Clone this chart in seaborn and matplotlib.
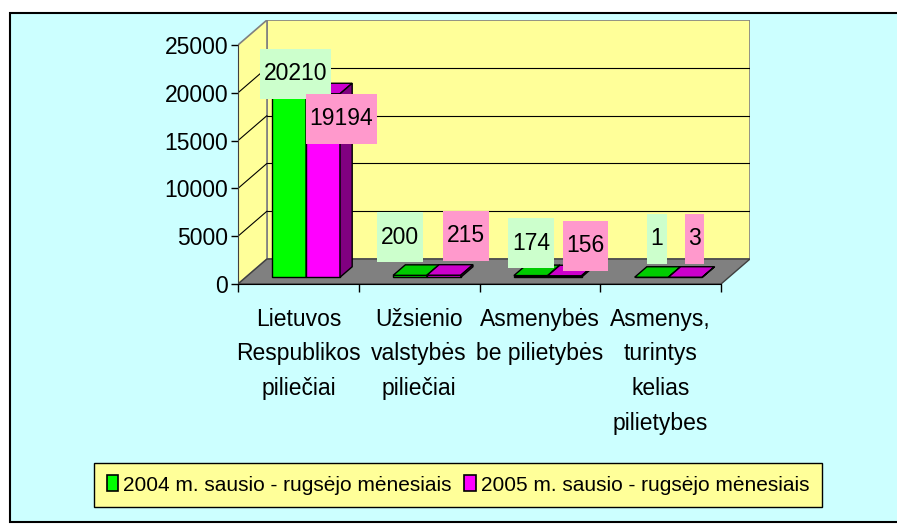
import numpy as np
import pandas as pd
import matplotlib
matplotlib.use("Agg")
import matplotlib.pyplot as plt
from matplotlib.patches import Polygon, Rectangle, Patch
from matplotlib.transforms import IdentityTransform
import seaborn as sns

# data
categories = ["Lietuvos\nRespublikos\npiliečiai",
              "Užsienio\nvalstybės\npiliečiai",
              "Asmenybės\nbe pilietybės",
              "Asmenys,\nturintys\nkelias\npilietybes"]
series = ["2004 m. sausio - rugsėjo mėnesiais",
          "2005 m. sausio - rugsėjo mėnesiais"]
values_2004 = [20210, 200, 174, 1]
values_2005 = [19194, 215, 156, 3]
y_ticks = [0, 5000, 10000, 15000, 20000, 25000]

# styling (Excel-like 3D look)
front_colors = ["#00FF00", "#FF00FF"]
top_colors = ["#00CC00", "#CC00CC"]
side_colors = ["#008000", "#800080"]
label_bg = ["#CCFFCC", "#FF99CC"]
# pixel nudges of the value labels (Excel pushes them apart)
label_shift = [[(0, 5), (-16, 33), (-6, 27), (-1, 33)],
               [(12, -30), (16, 34), (15, 25), (3, 33)]]

sns.set_style("white")
plt.rcParams["font.family"] = ["Liberation Sans", "DejaVu Sans"]
plt.rcParams["text.color"] = "black"
plt.rcParams["xtick.color"] = "black"
plt.rcParams["ytick.color"] = "black"
FS = 16.5

W, H, DPI = 897, 524, 100
fig = plt.figure(figsize=(W / DPI, H / DPI), dpi=DPI, facecolor="white")
fig.add_artist(Rectangle((10 / W, 2 / H), 1.0, 509 / H, transform=fig.transFigure,
                         facecolor="#CCFFFF", edgecolor="black", lw=1.5, zorder=-10))

ax = fig.add_axes([238 / W, (H - 284) / H, 512 / W, 264 / H])
ax.patch.set_visible(False)

# depth of the 3D box in data units
DX = 0.24
DY = 2615
F0, F1 = 0.27, 0.69   # front / back of the bars inside the depth
TOP = y_ticks[-1]
x0, x1 = -0.5, len(categories) - 0.5

# walls and floor
ax.add_patch(Polygon([(x0 + DX, DY), (x1 + DX, DY), (x1 + DX, TOP + DY), (x0 + DX, TOP + DY)],
                     closed=True, facecolor="#FFFF99", edgecolor="#808080", lw=1.2, zorder=0))
ax.add_patch(Polygon([(x0, 0), (x0 + DX, DY), (x0 + DX, TOP + DY), (x0, TOP)],
                     closed=True, facecolor="#FFFF99", edgecolor="#808080", lw=1.2, zorder=0))
ax.add_patch(Polygon([(x0, 0), (x1, 0), (x1 + DX, DY), (x0 + DX, DY)],
                     closed=True, facecolor="#808080", edgecolor="#404040", lw=1, zorder=1))
for t in y_ticks[1:-1]:
    ax.plot([x0 + DX, x1 + DX], [t + DY, t + DY], color="black", lw=0.8, zorder=1)
    ax.plot([x0, x0 + DX], [t, t + DY], color="black", lw=0.8, zorder=1)

# bars: front faces from seaborn, then shifted into the depth
df = pd.DataFrame({
    "category": categories * 2,
    "series": [series[0]] * len(categories) + [series[1]] * len(categories),
    "value": values_2004 + values_2005,
})
sns.barplot(data=df, x="category", y="value", hue="series", order=categories,
            hue_order=series, palette=front_colors, width=0.56, gap=0, saturation=1,
            edgecolor="black", linewidth=1, legend=False, ax=ax, zorder=3)

ddx, ddy = (F1 - F0) * DX, (F1 - F0) * DY
for i, cont in enumerate(ax.containers):
    for j, bar in enumerate(cont):
        bx, bw, v = bar.get_x() + F0 * DX, bar.get_width(), bar.get_height()
        base = F0 * DY
        bar.set_x(bx)
        bar.set_y(base)
        bar.set_zorder(3 + i)
        ax.add_patch(Polygon([(bx, base + v), (bx + bw, base + v), (bx + bw + ddx, base + v + ddy),
                              (bx + ddx, base + v + ddy)], closed=True, facecolor=top_colors[i],
                             edgecolor="black", lw=1, zorder=3 + i))
        ax.add_patch(Polygon([(bx + bw, base), (bx + bw + ddx, base + ddy), (bx + bw + ddx, base + v + ddy),
                              (bx + bw, base + v)], closed=True, facecolor=side_colors[i],
                             edgecolor="black", lw=1, zorder=3 + i))

ax.set_xlim(x0, x1 + DX)
ax.set_ylim(0, TOP + DY)
ax.set_xlabel("")
ax.set_ylabel("")

# axes, ticks
for s in ["top", "right"]:
    ax.spines[s].set_visible(False)
ax.spines["left"].set_bounds(0, TOP)
ax.spines["bottom"].set_bounds(x0, x1)
ax.spines["left"].set_color("#404040")
ax.spines["bottom"].set_color("black")
ax.spines["left"].set_zorder(2)
ax.set_yticks(y_ticks)
ax.tick_params(axis="y", left=True, length=5, width=1, direction="out", labelsize=FS, pad=2)
ax.set_xticks(range(len(categories)), categories)
ax.set_xticks(np.arange(x0, x1 + 0.1, 1), minor=True)
ax.tick_params(axis="x", which="major", bottom=True, length=0, labelsize=FS, pad=17)
ax.tick_params(axis="x", which="minor", bottom=True, length=6, width=1, direction="out")
for lbl in ax.get_xticklabels():
    lbl.set_linespacing(1.65)

# value labels with coloured boxes
for i, vals in enumerate([values_2004, values_2005]):
    for j, bar in enumerate(ax.containers[i]):
        cx = bar.get_x() + bar.get_width() / 2 + 0.5 * ddx
        cy = F0 * DY + vals[j] + 0.5 * ddy
        px, py = ax.transData.transform((cx, cy))
        px += label_shift[i][j][0]
        py += label_shift[i][j][1]
        txt = str(vals[j])
        w, h = 12.8 * len(txt) + 7, 50
        fig.add_artist(Rectangle((px - w / 2, py - h / 2), w, h, transform=IdentityTransform(),
                                 facecolor=label_bg[i], edgecolor="none", zorder=10))
        fig.text(px, py, txt, transform=IdentityTransform(), ha="center", va="center",
                 fontsize=FS, zorder=11)

handles = [Patch(facecolor=c, edgecolor="black", lw=1.2) for c in front_colors]
leg = fig.legend(handles, series, loc="center", bbox_to_anchor=(458 / W, 1 - 485 / H),
                 ncol=2, frameon=True, fancybox=False, edgecolor="black", facecolor="#FFFF99",
                 framealpha=1, fontsize=15, handlelength=0.55, handleheight=0.8,
                 handletextpad=0.25, columnspacing=0.6, borderpad=0.6)
leg.get_frame().set_linewidth(1)

fig.savefig("out.png", dpi=DPI)
